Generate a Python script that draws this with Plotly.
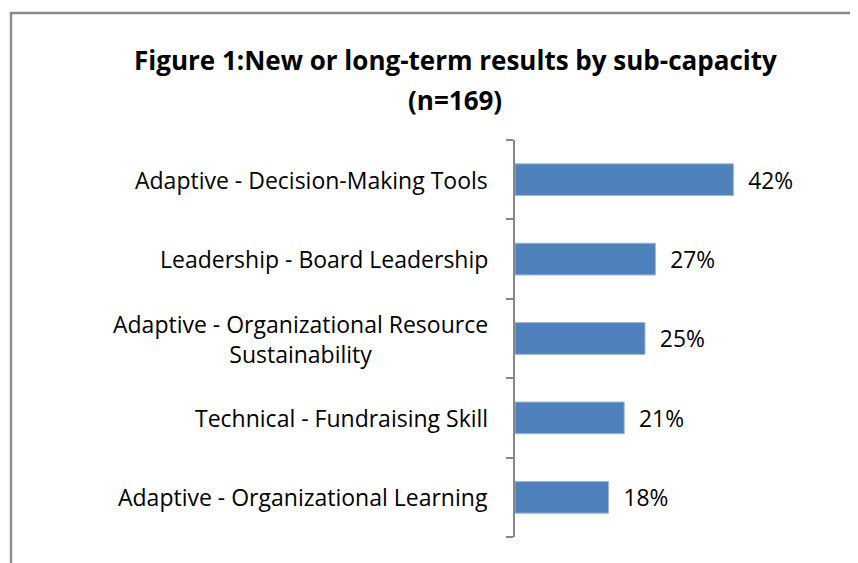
import plotly.graph_objects as go

categories = [
    "Adaptive - Decision-Making Tools",
    "Leadership - Board Leadership",
    "Adaptive - Organizational Resource<br>Sustainability",
    "Technical - Fundraising Skill",
    "Adaptive - Organizational Learning",
]
values = [42, 27, 25, 21, 18]
title_lines = ["Figure 1:New or long-term results by sub-capacity", "(n=169)"]

FONT = "Open Sans"
OFF = 8  # page body margin
W, H = 850, 555
L, T = 515 - OFF, 140 - OFF
R = W - (775 - OFF)
B = H - (537 - OFF)
pw, ph = W - L - R, H - T - B

fig = go.Figure()
fig.add_trace(go.Bar(
    x=values,
    y=list(range(len(categories))),
    orientation="h",
    marker=dict(color="#4F81BD", line=dict(color="#9DB8DC", width=1)),
    text=[f"\u00a0\u00a0{v}%" for v in values],
    textposition="outside",
    textfont=dict(family=FONT, size=23, color="#000000"),
    cliponaxis=False,
    hoverinfo="skip",
))

for i, c in enumerate(categories):
    fig.add_annotation(
        x=0, xref="paper", xshift=-25, xanchor="right",
        y=i, yref="y", yanchor="middle",
        text=c, align="center", showarrow=False,
        font=dict(family=FONT, size=23, color="#000000"),
    )

def px_x(p):
    return (p - OFF - L) / pw

def px_y(p):
    return (H - B - (p - OFF)) / ph

fig.add_shape(type="rect", xref="paper", yref="paper",
              x0=px_x(11), x1=px_x(880), y0=px_y(600), y1=px_y(13),
              line=dict(color="#8C8C8C", width=2.5), fillcolor="rgba(0,0,0,0)", layer="below")

for k, (line, ypx) in enumerate(zip(title_lines, [60, 100])):
    fig.add_annotation(
        x=px_x(455), xref="paper", xanchor="center",
        y=px_y(ypx), yref="paper", yanchor="middle",
        text=f"<b>{line}</b>", showarrow=False,
        font=dict(family=FONT, size=26, color="#000000"),
    )

fig.update_layout(
    width=W, height=H,
    margin=dict(l=L, r=R, t=T, b=B, pad=0),
    paper_bgcolor="white", plot_bgcolor="white",
    showlegend=False,
    bargap=0.6,
    xaxis=dict(range=[0, 50], visible=False, showgrid=False, zeroline=False),
    yaxis=dict(
        type="linear", range=[len(categories) - 0.5, -0.5],
        showticklabels=False, showgrid=False, zeroline=False,
        showline=True, linecolor="#868686", linewidth=1.5,
        ticks="outside", ticklen=7, tickwidth=1.5, tickcolor="#868686",
        tickvals=[i - 0.5 for i in range(len(categories) + 1)],
    ),
)

fig.write_html("out.html")
